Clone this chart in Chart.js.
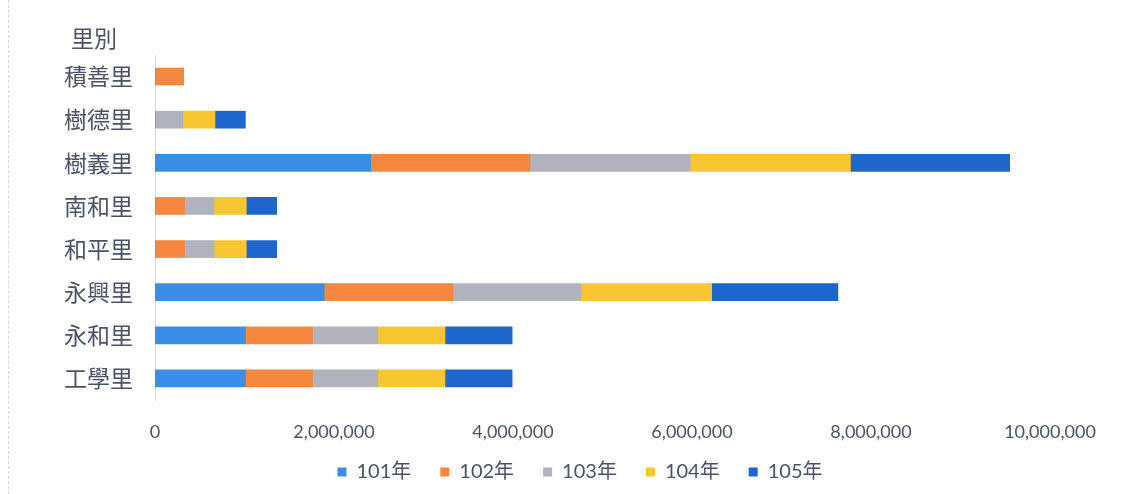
<!DOCTYPE html>
<html>
<head>
<meta charset="utf-8">
<script src="https://cdn.jsdelivr.net/npm/chart.js@4.4.1/dist/chart.umd.min.js"></script>
<style>
  html, body { margin: 0; padding: 0; background: #fff; }
  #wrap { position: relative; width: 1137px; height: 494px; }
  #wrap::before { content: ''; position: absolute; left: 8px; top: 0; bottom: 0; border-left: 1px dashed #d8d8dc; }
</style>
</head>
<body>
<div id="wrap"><canvas id="chart" width="1137" height="494"></canvas></div>
<script>
// villages, top to bottom
const villages = ['積善里', '樹德里', '樹義里', '南和里', '和平里', '永興里', '永和里', '工學里'];
const years = ['101年', '102年', '103年', '104年', '105年'];

const y101 = [0, 0, 2410000, 0, 0, 1890000, 1010000, 1010000];
const y102 = [320000, 0, 1780000, 330000, 330000, 1440000, 750000, 750000];
const y103 = [0, 310000, 1790000, 330000, 330000, 1430000, 730000, 730000];
const y104 = [0, 360000, 1790000, 360000, 360000, 1460000, 750000, 750000];
const y105 = [0, 340000, 1780000, 340000, 340000, 1410000, 750000, 750000];

const xTicks = [0, 2000000, 4000000, 6000000, 8000000, 10000000];

const colors = ['#3a8ee6', '#f5883e', '#b0b2be', '#f8c630', '#1f66cc'];
const series = [y101, y102, y103, y104, y105];

const cjk = '"Noto Sans CJK TC", "Noto Sans", sans-serif';
const num = 'Lato, "Noto Sans CJK TC", sans-serif';

// axis title "里別" drawn above the category labels
const cornerTitle = {
  id: 'cornerTitle',
  afterDraw(chart) {
    const ctx = chart.ctx;
    ctx.save();
    ctx.font = '23px ' + cjk;
    ctx.fillStyle = '#4a5366';
    ctx.textAlign = 'left';
    ctx.textBaseline = 'middle';
    ctx.fillText('里別', 71, 38);
    ctx.restore();
  }
};

// scales are squeezed to place the plot area; don't clip their labels to the box
const noClip = s => { s._computeLabelArea = () => null; };

new Chart(document.getElementById('chart'), {
  type: 'bar',
  data: {
    labels: villages,
    datasets: years.map((y, i) => ({
      label: y,
      data: series[i],
      backgroundColor: colors[i],
      barThickness: 17
    }))
  },
  options: {
    indexAxis: 'y',
    responsive: false,
    animation: false,
    layout: { padding: { top: 55, right: 87, left: 110, bottom: 2 } },
    scales: {
      x: {
        stacked: true,
        min: 0,
        max: 10000000,
        afterBuildTicks: s => { s.ticks = xTicks.map(v => ({ value: v })); },
        afterFit: s => { s.height = 33; noClip(s); },
        grid: { display: false, drawTicks: false },
        border: { display: false },
        ticks: {
          padding: 21,
          color: '#4a5366',
          font: { family: num, size: 18 },
          callback: v => v.toLocaleString('en-US')
        }
      },
      y: {
        stacked: true,
        grid: { display: false, drawTicks: false },
        border: { display: true, color: '#d6d6da' },
        afterFit: s => { s.width = 45; noClip(s); },
        ticks: {
          padding: 22,
          color: '#4a5366',
          font: { family: cjk, size: 23 }
        }
      }
    },
    plugins: {
      legend: {
        position: 'bottom',
        labels: {
          boxWidth: 9,
          boxHeight: 9,
          padding: 29,
          color: '#4a5366',
          font: { family: num, size: 20 }
        }
      },
      tooltip: { enabled: false }
    }
  },
  plugins: [cornerTitle]
});
</script>
</body>
</html>
